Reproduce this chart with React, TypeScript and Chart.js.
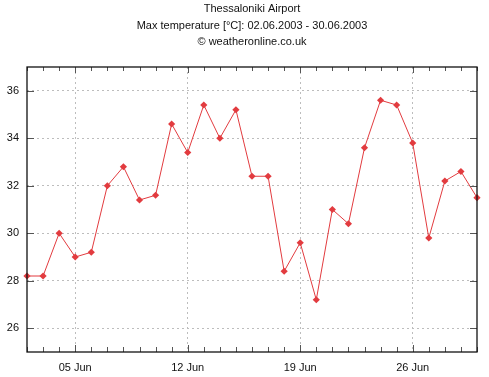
import React, { useEffect, useRef } from "react";
import { Chart, registerables } from "chart.js";

Chart.register(...registerables);

const titleLines = [
  "Thessaloniki Airport",
  "Max temperature [°C]: 02.06.2003 - 30.06.2003",
  "© weatheronline.co.uk",
];

const days = [2, 3, 4, 5, 6, 7, 8, 9, 10, 11, 12, 13, 14, 15, 16, 17, 18, 19, 20, 21, 22, 23, 24, 25, 26, 27, 28, 29, 30];
const maxTemp = [28.2, 28.2, 30.0, 29.0, 29.2, 32.0, 32.8, 31.4, 31.6, 34.6, 33.4, 35.4, 34.0, 35.2, 32.4, 32.4, 28.4, 29.6, 27.2, 31.0, 30.4, 33.6, 35.6, 35.4, 33.8, 29.8, 32.2, 32.6, 31.5];
const xLabelDays = [5, 12, 19, 26];
const xLabels = ["05 Jun", "12 Jun", "19 Jun", "26 Jun"];
const yTicks = [26, 28, 30, 32, 34, 36];
const yMin = 25;
const yMax = 37;

const RED = "#e23b3f";
const FONT = "'Liberation Sans', Arial, sans-serif";

const framePlugin = {
  id: "frameTicks",
  afterDraw(chart: any) {
    const { ctx, chartArea } = chart;
    const { left, right, top, bottom } = chartArea;
    const xs = chart.scales.x;
    const ys = chart.scales.y;
    ctx.save();
    ctx.lineWidth = 1;
    ctx.strokeStyle = "#555";
    for (const d of days) {
      const px = Math.round(xs.getPixelForValue(d)) + 0.5;
      const major = xLabelDays.includes(d);
      const len = major ? 7 : 5;
      ctx.beginPath();
      ctx.moveTo(px, bottom);
      ctx.lineTo(px, bottom - len);
      ctx.moveTo(px, top);
      ctx.lineTo(px, top + (major ? 6 : 4));
      ctx.stroke();
    }
    for (const v of yTicks) {
      const py = Math.round(ys.getPixelForValue(v)) + 0.5;
      ctx.beginPath();
      ctx.moveTo(left, py);
      ctx.lineTo(left + 7, py);
      ctx.moveTo(right, py);
      ctx.lineTo(right - 7, py);
      ctx.stroke();
    }
    ctx.strokeStyle = "#111";
    ctx.lineWidth = 1.3;
    ctx.strokeRect(left, top, right - left, bottom - top);
    ctx.restore();
  },
};

export default function App() {
  const ref = useRef<HTMLCanvasElement>(null);

  useEffect(() => {
    if (!ref.current) return;
    const chart = new Chart(ref.current, {
      type: "line",
      data: {
        datasets: [
          {
            data: days.map((d, i) => ({ x: d, y: maxTemp[i] })),
            borderColor: RED,
            backgroundColor: RED,
            borderWidth: 1,
            pointStyle: "rectRot",
            pointRadius: 3.6,
            pointBorderWidth: 0,
            pointBackgroundColor: RED,
            tension: 0,
            clip: false,
          } as any,
        ],
      },
      options: {
        animation: false,
        responsive: false,
        maintainAspectRatio: false,
        layout: { padding: { left: 0, right: 12, top: 0, bottom: 0 } },
        plugins: {
          legend: { display: false },
          tooltip: { enabled: false },
          title: {
            display: true,
            fullSize: false,
            text: titleLines,
            color: "#111",
            font: { family: FONT, size: 11, weight: "normal", lineHeight: 1.5 },
            padding: { top: 1, bottom: 16.5 },
          },
        },
        scales: {
          x: {
            type: "linear",
            min: 2,
            max: 30,
            afterBuildTicks: (s: any) => {
              s.ticks = xLabelDays.map((v) => ({ value: v }));
            },
            afterFit: (s: any) => {
              s.height = 25;
            },
            ticks: {
              autoSkip: false,
              maxRotation: 0,
              padding: 9,
              color: "#111",
              font: { family: FONT, size: 11 },
              callback: (v: any) => {
                const i = xLabelDays.indexOf(Number(v));
                return i >= 0 ? xLabels[i] : "";
              },
            },
            grid: { color: "#bdbdbd", lineWidth: 1, drawTicks: false },
            border: { display: false, dash: [2, 3] },
          },
          y: {
            type: "linear",
            min: yMin,
            max: yMax,
            afterBuildTicks: (s: any) => {
              s.ticks = yTicks.map((v) => ({ value: v }));
            },
            afterFit: (s: any) => {
              s.width = 27;
            },
            ticks: {
              padding: 8,
              color: "#111",
              font: { family: FONT, size: 11 },
            },
            grid: { color: "#bdbdbd", lineWidth: 1, drawTicks: false },
            border: { display: false, dash: [2, 3] },
          },
        },
      },
      plugins: [framePlugin],
    });
    return () => chart.destroy();
  }, []);

  return (
    <div style={{ position: "fixed", left: 0, top: 0, width: 489, height: 377, background: "#fff" }}>
      <canvas ref={ref} width={489} height={377} style={{ width: 489, height: 377, display: "block" }} />
    </div>
  );
}
